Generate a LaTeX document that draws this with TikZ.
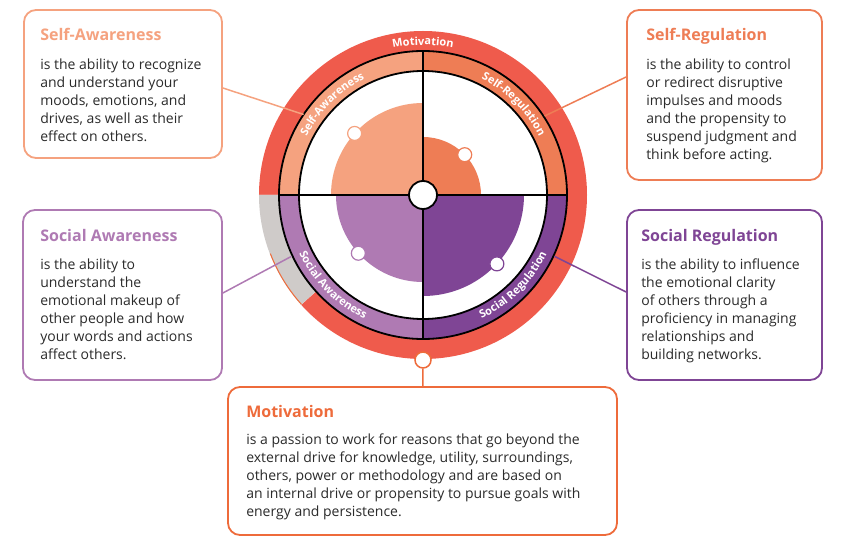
\documentclass[tikz,border=0pt]{standalone}
\usepackage{fontspec}
\setmainfont{Open Sans}
\usetikzlibrary{decorations.text,calc}
\definecolor{ring}{HTML}{EF5B4C}
\definecolor{selfaw}{HTML}{F5A27F}
\definecolor{selfreg}{HTML}{EE7D55}
\definecolor{socaw}{HTML}{AF7AB3}
\definecolor{socreg}{HTML}{7F4595}
\definecolor{motiv}{HTML}{EE6B3B}
\definecolor{ringgray}{HTML}{CFCBC9}
\definecolor{bodytext}{HTML}{2B2B2B}
\begin{document}
\begin{tikzpicture}[x=1pt,y=1pt,
  infobox/.style={draw=#1, line width=1.8pt, rounded corners=12pt, fill=white, inner sep=0pt},
  boxtitle/.style={anchor=base west, inner sep=0pt, text=#1, font=\fontsize{16}{18}\selectfont\bfseries},
  boxbody/.style={anchor=north west, inner sep=0pt, align=left, text=bodytext, font=\fontsize{14}{18}\selectfont},
  pinline/.style={draw=#1, line width=1.5pt},
  arctext/.style={decorate, decoration={text along path, text align=center,
    text={|\color{white}\fontsize{11}{11}\selectfont\bfseries|#1}}}]
  \useasboundingbox (-423,-348) rectangle (427,195);
  \fill[ring] (0,0) circle (164);
  \fill[white] (180:144) arc[start angle=180, end angle=222, radius=144] -- (222:165)
    arc[start angle=222, end angle=180, radius=165] -- cycle;
  \fill[ringgray] (180:144) arc[start angle=180, end angle=222, radius=144] -- (222:164)
    arc[start angle=222, end angle=180, radius=164] -- cycle;
  \draw[motiv, line width=1pt] (201:163.5) arc[start angle=201, end angle=222, radius=163.5];
  \foreach \a/\c in {0/selfreg,90/selfaw,180/socaw,270/socreg} {
    \fill[\c] (0,0) -- (\a:144) arc[start angle=\a, delta angle=90, radius=144] -- cycle; }
  \fill[white] (0,0) circle (124);
  \foreach \a/\r/\p/\c in {0/58/44/selfreg,90/92/138/selfaw,180/87/222/socaw,270/101/317/socreg} {
    \fill[\c] (0,0) -- (\a:\r) arc[start angle=\a, delta angle=90, radius=\r] -- cycle;
    \draw[\c, fill=white, line width=1.2pt] (\p:\r) circle (7);
  }
  \draw[line width=1.8pt] (0,0) circle (144) (0,0) circle (124) (-144,0) -- (144,0) (0,144) -- (0,-144);
  \node[circle, draw, line width=1.8pt, fill=white, minimum size=28pt, inner sep=0pt] (hub) at (0,0) {};
  \path[arctext=Motivation] (120:150) arc[start angle=120, end angle=60, radius=150];
  \path[arctext=Self-Awareness] (175:130) arc[start angle=175, end angle=95, radius=130];
  \path[arctext=Self-Regulation] (85:130) arc[start angle=85, end angle=5, radius=130];
  \path[arctext=Social Awareness] (185:137) arc[start angle=185, end angle=265, radius=137];
  \path[arctext=Social Regulation] (275:137) arc[start angle=275, end angle=355, radius=137];

  \node[infobox=selfaw, minimum width=198pt, minimum height=148pt] (sabox) at (-300,111) {};
  \node[boxtitle=selfaw] (satitle) at ($(sabox.north west)+(17,-31)$) {Self-Awareness};
  \node[boxbody] (sabody) at ($(sabox.north west)+(17,-49.5)$) {is the ability to recognize\\
    and understand your\\moods, emotions, and\\drives, as well as their\\effect on others.};

  \node[infobox=selfreg, minimum width=195pt, minimum height=170pt] (srbox) at (301.5,100) {};
  \node[boxtitle=selfreg] (srtitle) at ($(srbox.north west)+(20,-31)$) {Self-Regulation};
  \node[boxbody] (srbody) at ($(srbox.north west)+(20,-49.5)$) {is the ability to control\\
    or redirect disruptive\\impulses and moods\\and the propensity to\\suspend judgment and\\
    think before acting.};

  \node[infobox=socaw, minimum width=199pt, minimum height=170pt] (socabox) at (-300.5,-100) {};
  \node[boxtitle=socaw] (socatitle) at ($(socabox.north west)+(18,-32)$) {Social Awareness};
  \node[boxbody] (socabody) at ($(socabox.north west)+(18,-49.5)$) {is the ability to\\
    understand the\\emotional makeup of\\other people and how\\your words and actions\\
    affect others.};

  \node[infobox=socreg, minimum width=195pt, minimum height=170pt] (socrbox) at (301.5,-100) {};
  \node[boxtitle=socreg] (socrtitle) at ($(socrbox.north west)+(15,-32)$) {Social Regulation};
  \node[boxbody] (socrbody) at ($(socrbox.north west)+(15,-49.5)$) {is the ability to influence\\
    the emotional clarity\\of others through a\\proficiency in managing\\relationships and\\
    building networks.};

  \node[infobox=motiv, minimum width=389pt, minimum height=148pt] (motbox) at (-0.5,-266) {};
  \node[boxtitle=motiv] (mottitle) at ($(motbox.north west)+(19,-31)$) {Motivation};
  \node[boxbody] (motbody) at ($(motbox.north west)+(19,-47.5)$) {is a passion to work for reasons that go beyond the\\
    external drive for knowledge, utility, surroundings,\\others, power or methodology and are based on\\
    an internal drive or propensity to pursue goals with\\energy and persistence.};

  \coordinate (sapin) at (146:144);
  \coordinate (srpin) at (33:145);
  \coordinate (socapin) at (205:145);
  \coordinate (socrpin) at (-25:145);
  \draw[pinline=selfaw] ([yshift=-4pt]sabox.east) -- (sapin);
  \draw[pinline=selfreg] ([yshift=18pt]srbox.west) -- (srpin);
  \draw[pinline=socaw] ([yshift=2pt]socabox.east) -- (socapin);
  \draw[pinline=socreg] ([yshift=3pt]socrbox.west) -- (socrpin);
  \node[circle, draw=motiv, line width=1.5pt, fill=white, minimum size=16pt, inner sep=0pt] (motpin) at (0,-165) {};
  \draw[pinline=motiv] (motpin) -- (motbox);
\end{tikzpicture}
\end{document}
